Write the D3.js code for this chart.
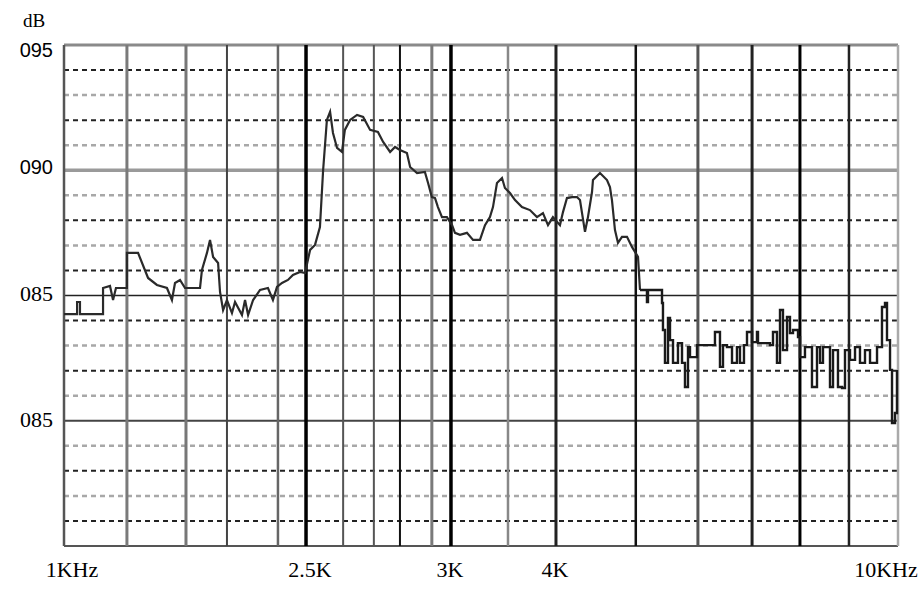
<!DOCTYPE html>
<html>
<head>
<meta charset="utf-8">
<script src="https://cdn.jsdelivr.net/npm/d3@7"></script>
<style>
  body { margin: 0; background: #fff; }
  svg { display: block; }
</style>
</head>
<body>
<script>
// axis labels (kHz)
var xTickFreq = [1, 2.5, 3, 4, 10];
var xTickLabels = ["1KHz", "2.5K", "3K", "4K", "10KHz"];

// vertical grid lines of the analyser screen (kHz)
var vGridFreq = [1.39, 1.756, 2.01, 2.326, 2.5, 2.628, 2.734, 2.824, 2.934, 3,
                 3.543, 4, 5.40, 6.49, 7.44, 8.28, 9.14];

// dB labels, as printed on the original
var yTickValues = [95, 90, 85, 80];
var yTickLabels = ["095", "090", "085", "085"];

// measured trace
var traceFreq = [1.000, 1.081, 1.081, 1.099, 1.099, 1.124, 1.242, 1.242, 1.285, 1.304,
  1.322, 1.390, 1.390, 1.459, 1.521, 1.576, 1.638, 1.669, 1.688, 1.719,
  1.750, 1.800, 1.843, 1.855, 1.886, 1.905, 1.924, 1.955, 1.967, 1.986,
  2.010, 2.041, 2.060, 2.103, 2.122, 2.141, 2.172, 2.215, 2.264, 2.295,
  2.320, 2.351, 2.388, 2.419, 2.463, 2.494,
  2.514, 2.531, 2.548, 2.559, 2.572, 2.583, 2.593, 2.607, 2.624, 2.634,
  2.652, 2.676, 2.697, 2.721, 2.748, 2.766, 2.790, 2.807, 2.824, 2.848,
  2.859, 2.883, 2.910, 2.921, 2.934, 2.945, 2.955, 2.969, 2.986,
  3.010, 3.038, 3.086, 3.152, 3.210, 3.276, 3.324, 3.371, 3.400, 3.438,
  3.486, 3.514, 3.562, 3.610, 3.676, 3.752, 3.819, 3.876, 3.924, 3.971,
  4.070, 4.123, 4.193, 4.281, 4.368, 4.421, 4.509, 4.561, 4.632, 4.649,
  4.772, 4.895, 4.947, 4.982, 5.035, 5.088, 5.158, 5.246, 5.333, 5.439,
  5.474, 5.596, 5.614, 5.789, 5.860, 5.877, 5.912, 5.965, 6.000, 6.053,
  6.140, 6.211, 6.263, 6.316, 6.351, 6.474, 6.737, 6.789, 6.877, 6.930,
  7.000, 7.088, 7.175, 7.228, 7.298, 7.351, 7.439, 7.526, 7.544, 7.754,
  7.807, 7.877, 7.930, 7.982, 8.053, 8.105, 8.158, 8.246, 8.281, 8.368,
  8.491, 8.579, 8.632, 8.684, 8.807, 8.860, 8.947, 9.018, 9.070, 9.158,
  9.246, 9.333, 9.421, 9.509, 9.632, 9.719, 9.772, 9.807, 9.860, 9.895,
  9.947, 9.982];
var traceDb = [84.26, 84.26, 84.74, 84.74, 84.26, 84.26, 84.26, 85.30, 85.38, 84.82,
  85.30, 85.30, 86.70, 86.70, 85.70, 85.42, 85.30, 84.82, 85.50, 85.62,
  85.30, 85.30, 85.30, 86.02, 86.70, 87.22, 86.54, 86.30, 85.14, 84.42,
  84.82, 84.30, 84.74, 84.22, 84.82, 84.22, 84.82, 85.22, 85.30, 84.82,
  85.34, 85.50, 85.62, 85.82, 85.94, 85.90,
  86.82, 87.02, 87.73, 90.01, 92.01, 92.33, 91.49, 90.89, 90.73, 91.61,
  92.01, 92.21, 92.13, 91.61, 91.53, 91.13, 90.73, 90.93, 90.81, 90.69,
  90.13, 89.89, 89.93, 89.49, 88.93, 88.89, 88.53, 88.13, 88.13,
  87.81, 87.50, 87.42, 87.50, 87.22, 87.22, 87.81, 88.13, 88.53, 89.49,
  89.69, 89.29, 89.09, 88.81, 88.53, 88.41, 88.13, 88.29, 87.81, 88.13,
  87.81, 88.33, 88.89, 88.93, 88.93, 88.81, 87.54, 88.13, 89.13, 89.61,
  89.89, 89.61, 89.33, 88.81, 87.61, 87.10, 87.34, 87.34, 86.94, 86.54,
  85.22, 84.74, 85.22, 85.22, 84.70, 83.62, 82.31, 84.10, 83.22, 82.31,
  83.10, 82.31, 81.35, 82.94, 82.54, 83.02, 83.02, 83.54, 82.15, 83.02,
  82.94, 82.31, 82.94, 82.31, 83.02, 83.54, 83.14, 83.54, 83.10, 83.02,
  83.54, 82.31, 84.42, 82.82, 84.14, 83.50, 83.62, 83.34, 82.54, 82.94,
  81.35, 82.94, 82.31, 82.94, 81.35, 82.82, 81.35, 81.31, 82.82, 82.43,
  82.94, 82.31, 82.82, 82.31, 82.94, 84.54, 84.70, 83.22, 82.03, 79.91,
  80.31, 82.03];

var W = 924, H = 590;
var margin = {top: 45, left: 64};
var width = 834, height = 501;

// the screen's frequency axis is not a plain log axis, so map between the labelled stops
var stopFrac = [0, 0.2902, 0.4640, 0.5899, 1];

var x = d3.scaleLinear()
  .domain(xTickFreq)
  .range(stopFrac.map(function(f) { return f * width; }));

var y = d3.scaleLinear()
  .domain([75, 95])
  .range([height, 0]);

var svg = d3.select("body").append("svg")
  .attr("width", W)
  .attr("height", H);

var g = svg.append("g")
  .attr("transform", "translate(" + margin.left + "," + margin.top + ")");

// minor dB lines (dashed)
var minor = d3.range(76, 95).filter(function(v) { return v % 5 != 0; });
g.selectAll("line.minor")
  .data(minor)
  .enter()
  .append("line")
  .attr("class", "minor")
  .attr("x1", 0)
  .attr("x2", width)
  .attr("y1", function(d) { return y(d); })
  .attr("y2", function(d) { return y(d); })
  .attr("stroke", function(d) { return (95 - d) % 2 == 1 ? "#222" : "#a8a8a8"; })
  .attr("stroke-width", function(d) { return (95 - d) % 2 == 1 ? 2 : 2.5; })
  .attr("stroke-dasharray", "5,4");

// major dB lines
var majorStyle = {95: ["#8a8a8a", 3], 90: ["#9a9a9a", 3.5], 85: ["#222", 1.6], 80: ["#444", 2], 75: ["#555", 2]};
g.selectAll("line.major")
  .data([95, 90, 85, 80, 75])
  .enter()
  .append("line")
  .attr("class", "major")
  .attr("x1", 0)
  .attr("x2", width)
  .attr("y1", function(d) { return y(d); })
  .attr("y2", function(d) { return y(d); })
  .attr("stroke", function(d) { return majorStyle[d][0]; })
  .attr("stroke-width", function(d) { return majorStyle[d][1]; });

// vertical lines, the scan gives them different shades
var vShade = ["#7a7a7a", "#777", "#444", "#666", "#000", "#555", "#555", "#111", "#7a7a7a", "#000",
              "#888", "#222", "#111", "#555", "#222", "#000", "#222"];
var vWidth = [3, 3, 2, 2.5, 3.5, 2, 2, 2, 3, 3.5,
              2.5, 3, 2.5, 3, 3, 3, 2.5];
g.selectAll("line.v")
  .data(vGridFreq)
  .enter()
  .append("line")
  .attr("class", "v")
  .attr("x1", function(d) { return x(d); })
  .attr("x2", function(d) { return x(d); })
  .attr("y1", 0)
  .attr("y2", height)
  .attr("stroke", function(d, i) { return vShade[i]; })
  .attr("stroke-width", function(d, i) { return vWidth[i]; });

// left / right borders
g.append("line")
  .attr("x1", x(1)).attr("x2", x(1))
  .attr("y1", 0).attr("y2", height)
  .attr("stroke", "#555").attr("stroke-width", 2.5);
g.append("line")
  .attr("x1", x(10)).attr("x2", x(10))
  .attr("y1", 0).attr("y2", height)
  .attr("stroke", "#aaa").attr("stroke-width", 2.5);

// trace: smooth-ish part up to ~5.4k, then the noisy staircase part
var trace = traceFreq.map(function(f, i) { return [f, traceDb[i]]; });
var split = traceFreq.indexOf(5.474);

var line = d3.line()
  .x(function(d) { return x(d[0]); })
  .y(function(d) { return y(d[1]); });
var stepLine = d3.line()
  .curve(d3.curveStepAfter)
  .x(function(d) { return x(d[0]); })
  .y(function(d) { return y(d[1]); });

g.append("path")
  .datum(trace.slice(0, split + 1))
  .attr("d", line)
  .attr("fill", "none")
  .attr("stroke", "#2a2a2a")
  .attr("stroke-width", 2.2);

g.append("path")
  .datum(trace.slice(split))
  .attr("d", stepLine)
  .attr("fill", "none")
  .attr("stroke", "#1a1a1a")
  .attr("stroke-width", 2.4);

// y labels
var yFont = ["Liberation Sans, Arial, sans-serif", "Liberation Sans, Arial, sans-serif",
             "Liberation Serif, Times New Roman, serif", "Liberation Serif, Times New Roman, serif"];
var yFontSize = [20, 20, 22, 22];
var yDy = [12, 4, 5, 6];
svg.selectAll("text.ylab")
  .data(yTickValues)
  .enter()
  .append("text")
  .attr("class", "ylab")
  .text(function(d, i) { return yTickLabels[i]; })
  .attr("text-anchor", "end")
  .attr("x", margin.left - 11)
  .attr("y", function(d, i) { return margin.top + y(d) + yDy[i]; })
  .attr("font-family", function(d, i) { return yFont[i]; })
  .attr("font-size", function(d, i) { return yFontSize[i]; })
  .attr("fill", "#000");

svg.append("text")
  .text("dB")
  .attr("text-anchor", "middle")
  .attr("x", 34)
  .attr("y", 27)
  .attr("font-family", "Liberation Serif, Times New Roman, serif")
  .attr("font-size", 19)
  .attr("fill", "#000");

// x labels
var xDx = [8, 4, -1, -1, -12];
svg.selectAll("text.xlab")
  .data(xTickFreq)
  .enter()
  .append("text")
  .attr("class", "xlab")
  .text(function(d, i) { return xTickLabels[i]; })
  .attr("text-anchor", "middle")
  .attr("x", function(d, i) { return margin.left + x(d) + xDx[i]; })
  .attr("y", 577)
  .attr("font-family", "Liberation Serif, Times New Roman, serif")
  .attr("font-size", 22)
  .attr("fill", "#000");
</script>
</body>
</html>
